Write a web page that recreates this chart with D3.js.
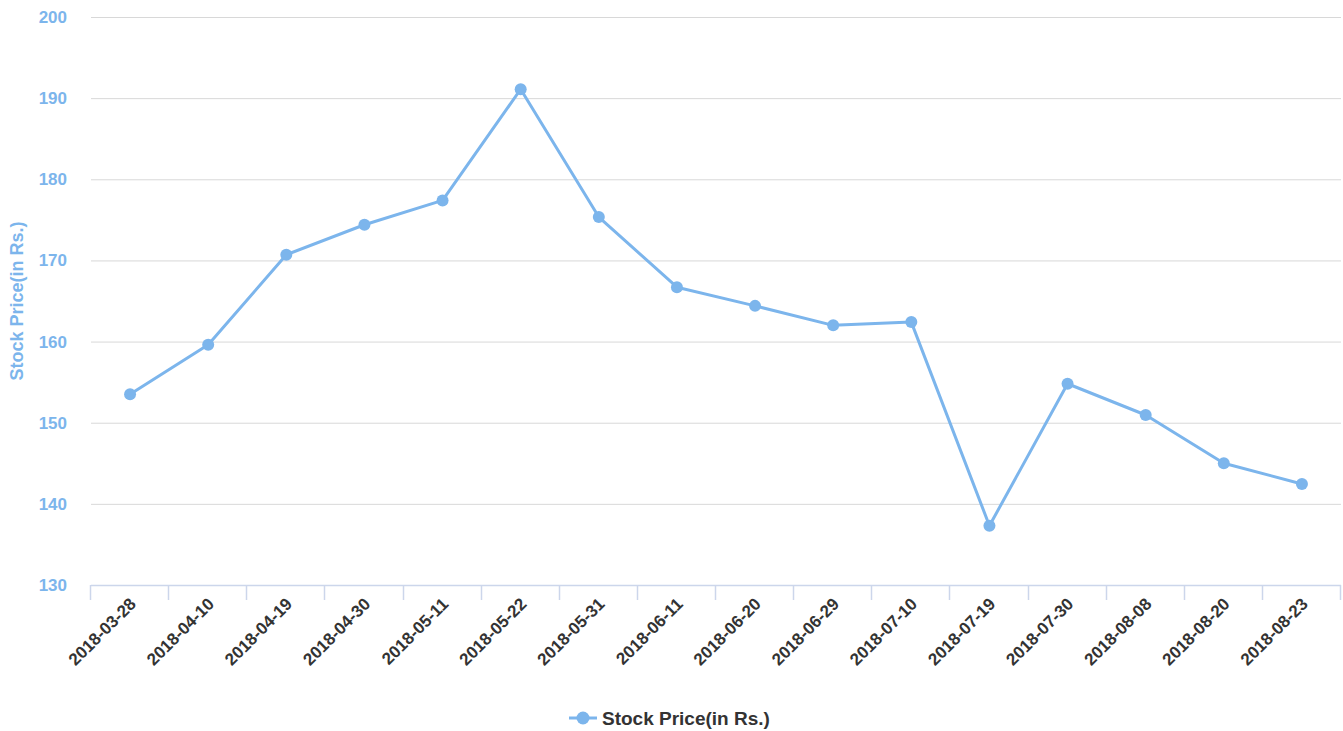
<!DOCTYPE html>
<html><head><meta charset="utf-8">
<script src="https://cdnjs.cloudflare.com/ajax/libs/d3/7.8.5/d3.min.js"></script>
<style>body{margin:0;background:#fff;font-family:"Liberation Sans",Arial,Helvetica,sans-serif;}</style>
</head><body><svg id="c" width="1343" height="731"></svg>
<script>
const dates = ["2018-03-28","2018-04-10","2018-04-19","2018-04-30","2018-05-11","2018-05-22","2018-05-31","2018-06-11","2018-06-20","2018-06-29","2018-07-10","2018-07-19","2018-07-30","2018-08-08","2018-08-20","2018-08-23"];
const prices = [153.5,159.6,170.7,174.4,177.4,191.1,175.35,166.7,164.4,162.0,162.4,137.3,154.8,150.95,145.0,142.45];
const yTicks = [130,140,150,160,170,180,190,200];
const seriesName = "Stock Price(in Rs.)";
const yTitle = "Stock Price(in Rs.)";

const svg = d3.select("#c");
const L=91, R=1341, T=17, B=585;
const color="#7cb5ec";
const x = d3.scaleBand().domain(dates).range([L,R]);
const y = d3.scaleLinear().domain([130,200]).range([B,T]);

// grid
svg.append("g").selectAll("line").data(yTicks.filter(d=>d!==130)).join("line")
  .attr("x1",L).attr("x2",R).attr("y1",d=>y(d)+0.5).attr("y2",d=>y(d)+0.5)
  .attr("stroke","#d8d8d8").attr("stroke-width",1);

// y labels
svg.append("g").selectAll("text").data(yTicks).join("text")
  .attr("x",67).attr("y",d=>y(d)+6).attr("text-anchor","end")
  .attr("fill",color).attr("font-size",17).attr("font-weight","bold").text(d=>d);

// y title
svg.append("text").attr("transform",`translate(23,${(T+B)/2}) rotate(-90)`)
  .attr("text-anchor","middle").attr("fill",color).attr("font-size",18).attr("font-weight","bold").text(yTitle);

// x axis
const xa = svg.append("g");
xa.append("line").attr("x1",L).attr("x2",R).attr("y1",B+0.5).attr("y2",B+0.5).attr("stroke","#ccd6eb").attr("stroke-width",1.5);
const tickPos = dates.map(d=>x(d)).concat([R]);
xa.selectAll("line.t").data(tickPos).join("line").attr("class","t")
  .attr("x1",d=>Math.round(d)-0.5).attr("x2",d=>Math.round(d)-0.5).attr("y1",B).attr("y2",B+15).attr("stroke","#ccd6eb").attr("stroke-width",1.5);
xa.selectAll("text").data(dates).join("text")
  .attr("transform",d=>`translate(${x(d)+x.bandwidth()/2+7},${B+20}) rotate(-45)`)
  .attr("text-anchor","end").attr("fill","#333").attr("font-size",17).attr("font-weight","bold").text(d=>d);

// line
const cx = d=>x(d)+x.bandwidth()/2;
svg.append("path").datum(prices.map((p,i)=>[cx(dates[i]),y(p)]))
  .attr("d",d3.line()).attr("fill","none").attr("stroke",color).attr("stroke-width",3).attr("stroke-linejoin","round");
svg.append("g").selectAll("circle").data(prices).join("circle")
  .attr("cx",(d,i)=>cx(dates[i])).attr("cy",d=>y(d)).attr("r",6).attr("fill",color);

// legend
const lg = svg.append("g").attr("transform","translate(569,718)");
lg.append("line").attr("x1",0).attr("x2",28).attr("y1",0).attr("y2",0).attr("stroke",color).attr("stroke-width",3);
lg.append("circle").attr("cx",14).attr("cy",0).attr("r",6.5).attr("fill",color);
lg.append("text").attr("x",33).attr("y",7).attr("fill","#333").attr("font-size",19).attr("font-weight","bold").text(seriesName);
</script></body></html>
